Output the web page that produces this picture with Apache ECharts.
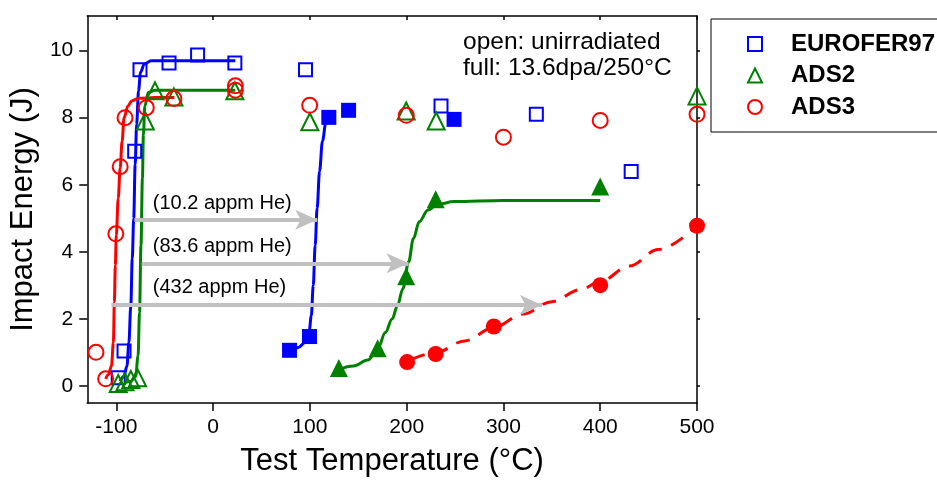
<!DOCTYPE html>
<html>
<head>
<meta charset="utf-8">
<script src="https://cdn.jsdelivr.net/npm/echarts@6/dist/echarts.min.js"></script>
<style>html,body{margin:0;padding:0;background:#fff;}#c{width:937px;height:482px;}</style>
</head>
<body>
<div id="c"></div>
<script>
// ---- data ----
const xTicks = [-100, 0, 100, 200, 300, 400, 500];
const yTicks = [0, 2, 4, 6, 8, 10];
const seriesNames = ['EUROFER97', 'ADS2', 'ADS3'];

// open markers: unirradiated
const eurUnirr = [[-98,0.25],[-92,1.05],[-81,7.0],[-75.5,9.43],[-45.5,9.63],[-16,9.87],[22.5,9.63],[95.5,9.43],[235.5,8.35],[334,8.1],[432,6.4]];
const ads2Unirr = [[-98,0.08],[-91,0.13],[-85,0.2],[-78,0.25],[-70,7.9],[-60,8.8],[-40.5,8.62],[22.5,8.8],[100,7.88],[199.5,8.2],[230.5,7.9],[500,8.65]];
const ads3Unirr = [[-121,1.01],[-111,0.22],[-100.5,4.54],[-96,6.54],[-91,8.0],[-69,8.3],[-40.5,8.57],[23,8.95],[23,8.82],[99.8,8.37],[199.6,8.07],[300,7.42],[400,7.92],[500,8.1]];

// full markers: 13.6 dpa / 250 C
const eurIrr = [[79,1.07],[99.6,1.48],[119.6,8.01],[140,8.22],[249,7.95]];
const ads2Irr = [[130,0.54],[170,1.13],[199.5,3.28],[230,5.57],[400,5.95]];
const ads3Irr = [[200.5,0.72],[230,0.96],[290,1.78],[400,3.01],[500,4.78]];

// fitted curves
const eurUnirrFit = [[-96,0.15],[-92,0.3],[-89,0.6],[-87,1.3],[-85,2.4],[-83.5,3.8],[-82,5.0],[-80.5,6.6],[-79,7.8],[-77,8.8],[-75,9.35],[-71,9.6],[-64,9.7],[-30,9.7],[23,9.7]];
const ads2UnirrFit = [[-92,0.1],[-85,0.15],[-80,0.3],[-77.5,0.9],[-76,2.2],[-74.5,4.2],[-73,6.2],[-72,7.5],[-70.5,8.35],[-67,8.75],[-60,8.82],[0,8.82],[23,8.82]];
const ads3UnirrFit = [[-111,0.22],[-108,0.35],[-105,0.6],[-103,1.3],[-102,2.5],[-101,3.6],[-100,4.5],[-98,5.6],[-96,6.5],[-94,7.3],[-92,8.0],[-88,8.35],[-84,8.5],[-77,8.58],[-60,8.6],[-40,8.6]];
const eurIrrFit = [[80,1.07],[88,1.15],[95,1.3],[99,1.55],[101.5,2.1],[103.5,3.0],[105.5,4.2],[107.5,5.3],[110,6.4],[113,7.3],[116.5,7.85],[120,8.0]];
const ads2IrrFit = [[130,0.5],[145,0.6],[160,0.78],[170,1.1],[178,1.6],[185,2.0],[190.5,2.4],[196,2.9],[202,3.7],[207,4.4],[213,4.9],[222,5.25],[232,5.42],[249,5.5],[300,5.53],[400,5.53]];
const ads3IrrFit = [[205,0.8],[230,1.0],[260,1.35],[290,1.75],[320,2.15],[350,2.52],[380,2.88],[400,3.12],[430,3.58],[460,4.07],[500,4.78]];

// helium arrows and labels
const arrowStart = [-81.3, -73.7, -105];
const arrowEnd = [107.6, 202, 339.8];
const arrowY = [4.96, 3.66, 2.42];
const heLabels = ['(10.2 appm He)', '(83.6 appm He)', '(432 appm He)'];
const heLabelX = [-62.3, -62.3, -62.3];
const heLabelY = [5.43, 4.16, 2.94];
const noteText = ['open: unirradiated', 'full: 13.6dpa/250°C'];

// ---- chart ----
const FONT = 'Arial, "Liberation Sans", sans-serif';
const BLUE = '#0000ff', GREEN = '#008000', RED = '#ff0000', GRAY = '#c0c0c0';
const chart = echarts.init(document.getElementById('c'), null, {renderer: 'canvas'});

function openScatter(name, data, symbol, size, color) {
  return {name, type: 'scatter', data, symbol, symbolSize: size, z: 5,
    itemStyle: {color: 'rgba(255,255,255,0)', borderColor: color, borderWidth: 2, opacity: 1}};
}
function fullScatter(name, data, symbol, size, color) {
  return {name, type: 'scatter', data, symbol, symbolSize: size, z: 5,
    itemStyle: {color: color, borderColor: color, borderWidth: 0, opacity: 1}};
}
function fitLine(name, data, color, type) {
  return {name, type: 'line', data, showSymbol: false, symbol: 'none', smooth: 0.35,
    smoothMonotone: 'x', z: 3, silent: true,
    lineStyle: {color, width: 3, type: type || 'solid', opacity: 1}};
}

const axisLineStyle = {color: '#000', width: 1.5};

const option = {
  animation: false,
  backgroundColor: '#fff',
  grid: {left: 86, right: 240, top: 16, bottom: 74, containLabel: false},
  title: {
    text: noteText.join('\n'), left: 463, top: 29, padding: 0,
    textStyle: {fontFamily: FONT, fontSize: 24.5, fontWeight: 'normal', color: '#000', lineHeight: 26}
  },
  legend: {
    data: seriesNames, orient: 'vertical', left: 747, top: 32, padding: 0,
    itemWidth: 14, itemHeight: 14, itemGap: 7.5,
    textStyle: {fontFamily: FONT, fontSize: 24, fontWeight: 'bold', color: '#000', lineHeight: 24,
      padding: [0, 0, 0, 24]},
    itemStyle: {borderWidth: 2, opacity: 1}
  },
  graphic: [{type: 'rect', shape: {x: 711, y: 19, width: 260, height: 113},
    style: {fill: 'none', stroke: '#000', lineWidth: 1}, silent: true}],
  xAxis: [{
    type: 'value', min: -130, max: 500, position: 'bottom',
    name: 'Test Temperature (°C)', nameLocation: 'middle', nameGap: 43,
    nameTextStyle: {fontFamily: FONT, fontSize: 31, color: '#000'},
    axisLine: {show: true, onZero: false, lineStyle: axisLineStyle},
    axisTick: {show: true, length: 8, inside: false, customValues: xTicks, lineStyle: axisLineStyle},
    axisLabel: {show: true, customValues: xTicks, margin: 14, fontFamily: FONT, fontSize: 21, color: '#000'},
    splitLine: {show: false}
  }, {
    type: 'value', min: -130, max: 500, position: 'top',
    axisLine: {show: true, onZero: false, lineStyle: axisLineStyle},
    axisTick: {show: true, length: 4, inside: true, customValues: xTicks, lineStyle: axisLineStyle},
    axisLabel: {show: false}, splitLine: {show: false}
  }],
  yAxis: [{
    type: 'value', min: -0.5, max: 11.03, position: 'left',
    name: 'Impact Energy (J)', nameLocation: 'middle', nameGap: 42,
    nameTextStyle: {fontFamily: FONT, fontSize: 31, color: '#000'},
    axisLine: {show: true, onZero: false, lineStyle: axisLineStyle},
    axisTick: {show: true, length: 8, inside: false, customValues: yTicks, lineStyle: axisLineStyle},
    axisLabel: {show: true, customValues: yTicks, margin: 14, fontFamily: FONT, fontSize: 21, color: '#000'},
    splitLine: {show: false}
  }, {
    type: 'value', min: -0.5, max: 11.03, position: 'right',
    axisLine: {show: true, onZero: false, lineStyle: axisLineStyle},
    axisTick: {show: true, length: 3, inside: false, customValues: yTicks, lineStyle: axisLineStyle},
    axisLabel: {show: false}, splitLine: {show: false}
  }],
  series: [
    {
      name: 'arrows', type: 'line', data: [], z: 1, silent: true,
      markLine: {
        silent: true, animation: false,
        symbol: ['none', 'arrow'], symbolSize: [15, 22],
        lineStyle: {color: GRAY, width: 4, type: 'solid', opacity: 1},
        itemStyle: {color: GRAY, opacity: 1},
        label: {show: false},
        data: arrowY.map((y, i) => [{coord: [arrowStart[i], y]}, {coord: [arrowEnd[i], y]}])
      }
    },
    {
      name: 'labels', type: 'scatter', symbolSize: 0, silent: true, z: 2,
      itemStyle: {opacity: 1},
      data: heLabels.map((t, i) => [heLabelX[i], heLabelY[i], t]),
      label: {show: true, position: 'right', distance: 0, formatter: p => p.value[2],
        fontFamily: FONT, fontSize: 20, color: '#000', opacity: 1}
    },
    fitLine('eurUnirrFit', eurUnirrFit, BLUE),
    fitLine('ads2UnirrFit', ads2UnirrFit, GREEN),
    fitLine('ads3UnirrFit', ads3UnirrFit, RED),
    fitLine('eurIrrFit', eurIrrFit, BLUE),
    fitLine('ads2IrrFit', ads2IrrFit, GREEN),
    fitLine('ads3IrrFit', ads3IrrFit, RED, [14, 10]),
    openScatter('EUROFER97', eurUnirr, 'rect', 13, BLUE),
    openScatter('ADS2', ads2Unirr, 'triangle', 17, GREEN),
    openScatter('ADS3', ads3Unirr, 'circle', 15, RED),
    fullScatter('EUROFER97 irr', eurIrr, 'rect', 15, BLUE),
    fullScatter('ADS2 irr', ads2Irr, 'triangle', 18, GREEN),
    fullScatter('ADS3 irr', ads3Irr, 'circle', 16, RED)
  ]
};
chart.setOption(option);
</script>
</body>
</html>
